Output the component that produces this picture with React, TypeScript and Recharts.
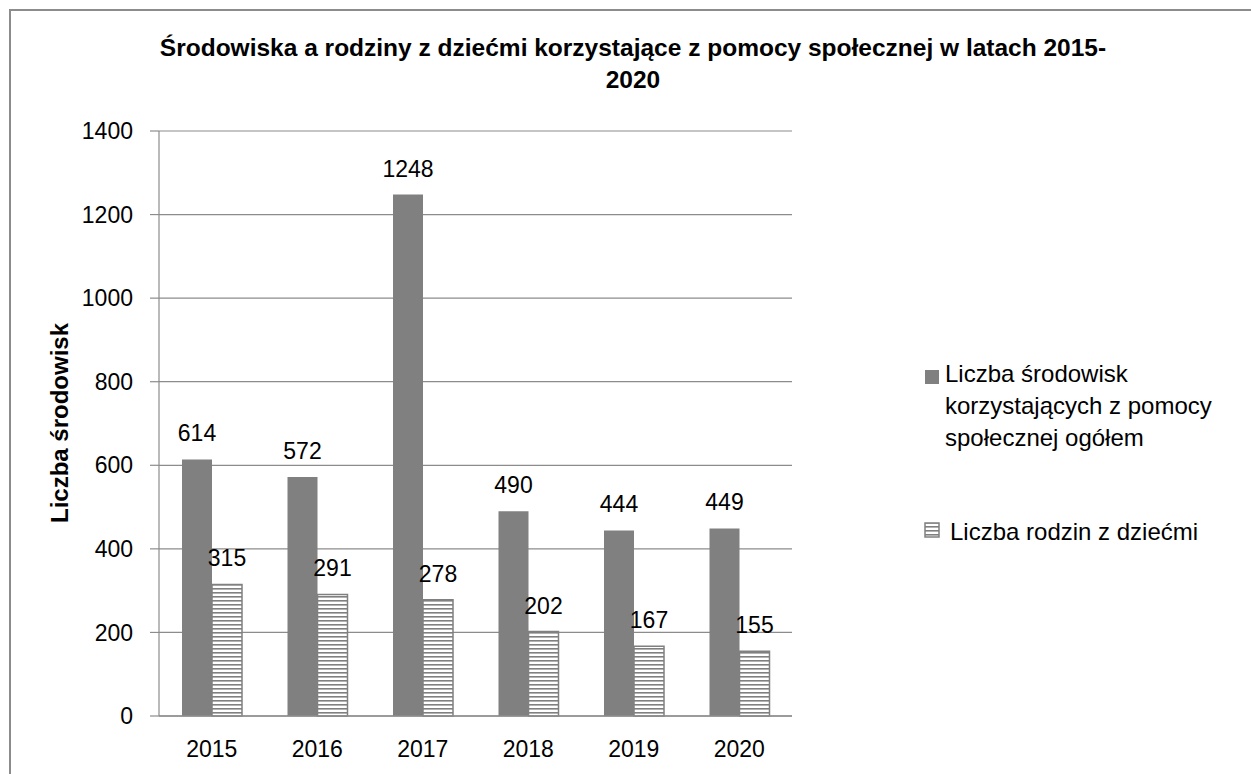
import React from 'react';
import { BarChart, Bar, XAxis, YAxis, CartesianGrid, LabelList } from 'recharts';

const years = ['2015', '2016', '2017', '2018', '2019', '2020'];
const srodowiskaOgolem = [614, 572, 1248, 490, 444, 449];
const rodzinyZDziecmi = [315, 291, 278, 202, 167, 155];
const yTicks = [0, 200, 400, 600, 800, 1000, 1200, 1400];

const TITLE_1 = 'Środowiska a rodziny z dziećmi korzystające z pomocy społecznej w latach 2015-';
const TITLE_2 = '2020';
const Y_LABEL = 'Liczba środowisk';
const SERIES_1 = 'Liczba środowisk korzystających z pomocy społecznej ogółem';
const SERIES_2 = 'Liczba rodzin z dziećmi';

const GRAY = '#808080';
const LINE = '#8c8c8c';
const FONT = "'Liberation Sans', Arial, Helvetica, sans-serif";

const data = years.map((year, i) => ({
  year,
  ogolem: srodowiskaOgolem[i],
  dzieci: rodzinyZDziecmi[i],
}));

const YLabel = () => (
  <text
    x={59}
    y={423}
    transform="rotate(-90 59 423)"
    textAnchor="middle"
    dominantBaseline="central"
    fontFamily={FONT}
    fontWeight="bold"
    fontSize={24}
    fill="#000"
  >
    {Y_LABEL}
  </text>
);

export default function App() {
  return (
    <div style={{ position: 'absolute', left: 0, top: 0, width: 1251, height: 774, background: '#fff', fontFamily: FONT, overflow: 'hidden' }}>
      <div style={{ position: 'absolute', left: 9, top: 9, width: 1260, height: 800, borderTop: `2px solid ${LINE}`, borderLeft: `2px solid ${LINE}` }} />

      <div style={{ position: 'absolute', left: 0, top: 32, width: 1266, textAlign: 'center', fontWeight: 'bold', fontSize: 24.5, lineHeight: '32px', color: '#000' }}>
        {TITLE_1}
        <br />
        {TITLE_2}
      </div>

      <div style={{ position: 'absolute', left: 0, top: 0 }}>
        <BarChart
          width={1251}
          height={774}
          data={data}
          margin={{ top: 131, right: 459, bottom: 0, left: 0 }}
          barGap={0}
          barSize={30}
        >
          <defs>
            <pattern id="hatch" width={4} height={4} patternUnits="userSpaceOnUse">
              <rect width={4} height={4} fill="#fff" />
              <rect width={4} height={1.6} fill={GRAY} />
            </pattern>
          </defs>
          <CartesianGrid vertical={false} stroke={LINE} strokeWidth={1.2} />
          <XAxis
            dataKey="year"
            height={58}
            tickLine={false}
            tickSize={6}
            tickMargin={19}
            axisLine={{ stroke: LINE, strokeWidth: 1.5 }}
            tick={{ fill: '#000', fontSize: 23, fontFamily: FONT }}
          />
          <YAxis
            width={159}
            domain={[0, 1400]}
            ticks={yTicks}
            interval={0}
            tickSize={9}
            tickMargin={17}
            axisLine={{ stroke: LINE, strokeWidth: 1.2 }}
            tickLine={{ stroke: LINE, strokeWidth: 1.2 }}
            tick={{ fill: '#000', fontSize: 23, fontFamily: FONT }}
            label={{ content: () => <YLabel /> }}
          />
          <Bar dataKey="ogolem" name={SERIES_1} fill={GRAY} isAnimationActive={false}>
            <LabelList dataKey="ogolem" position="top" offset={18} fill="#000" fontSize={23} fontFamily={FONT} />
          </Bar>
          <Bar dataKey="dzieci" name={SERIES_2} fill="url(#hatch)" stroke={GRAY} strokeWidth={1.5} isAnimationActive={false}>
            <LabelList dataKey="dzieci" position="top" offset={18} fill="#000" fontSize={23} fontFamily={FONT} />
          </Bar>
        </BarChart>
      </div>

      {/* legend */}
      <div style={{ position: 'absolute', left: 925, top: 370, width: 14, height: 14, background: GRAY }} />
      <div style={{ position: 'absolute', left: 945, top: 358, width: 300, fontSize: 24, lineHeight: '32px', color: '#000' }}>
        Liczba środowisk
        <br />
        korzystających z pomocy
        <br />
        społecznej ogółem
      </div>
      <svg style={{ position: 'absolute', left: 924, top: 522 }} width={16} height={16}>
        <defs>
          <pattern id="hatchLegend" width={4} height={4} patternUnits="userSpaceOnUse">
            <rect width={4} height={4} fill="#fff" />
            <rect width={4} height={1.6} fill={GRAY} />
          </pattern>
        </defs>
        <rect x={1} y={1} width={14} height={14} fill="url(#hatchLegend)" stroke={GRAY} strokeWidth={1.5} />
      </svg>
      <div style={{ position: 'absolute', left: 950, top: 516, width: 300, fontSize: 24, lineHeight: '32px', color: '#000' }}>
        {SERIES_2}
      </div>
    </div>
  );
}
